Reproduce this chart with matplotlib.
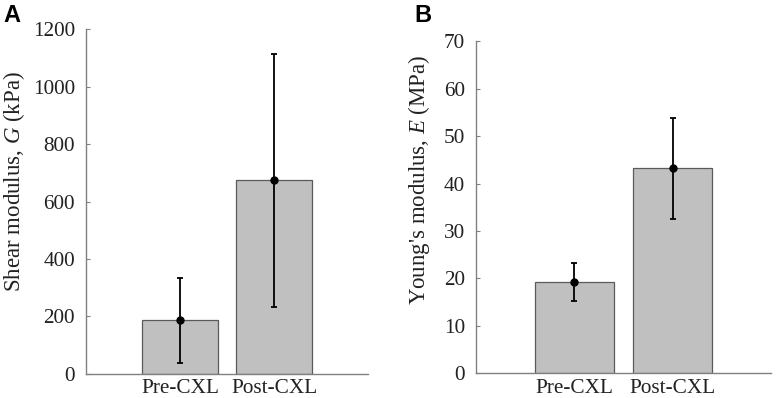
import matplotlib
matplotlib.use("Agg")
import matplotlib.pyplot as plt
import numpy as np

plt.rcParams['font.family'] = ['Liberation Serif', 'DejaVu Serif']
plt.rcParams['mathtext.fontset'] = 'custom'
plt.rcParams['mathtext.rm'] = 'Liberation Serif'
plt.rcParams['mathtext.it'] = 'Liberation Serif:italic'

categories = ["Pre-CXL", "Post-CXL"]
shear_mean = [187, 674]
shear_err = [148, 441]
young_mean = [19.3, 43.2]
young_err = [4.0, 10.6]

fig = plt.figure(figsize=(7.78, 3.98), dpi=100)
axA = fig.add_axes([0.1105, 0.061, 0.3625, 0.865])
axB = fig.add_axes([0.6118, 0.062, 0.3792, 0.834])

def style(ax, means, errs, ylim, yticks, ylabel, label_xy):
    x = np.arange(1, len(categories) + 1)
    ax.bar(x, means, width=0.8, color='#c0c0c0', edgecolor='#5a5a5a', linewidth=0.9, zorder=2)
    ax.errorbar(x, means, yerr=errs, fmt='o', color='black', ms=5, elinewidth=1.3,
                capsize=2.5, capthick=1.3, zorder=3)
    ax.set_xlim(0, 3)
    ax.set_ylim(*ylim)
    ax.set_yticks(yticks)
    ax.set_xticks(x)
    ax.set_xticklabels(categories)
    for s in ['top', 'right']:
        ax.spines[s].set_visible(False)
    for s in ['left', 'bottom']:
        ax.spines[s].set_color('#808080')
        ax.spines[s].set_linewidth(1.0)
    ax.tick_params(direction='in', length=3, color='#808080', labelsize=15.3,
                   labelcolor='#222222', pad=8)
    ax.tick_params(axis='x', pad=4)
    ax.set_ylabel(ylabel, fontsize=16.5, color='#222222')
    ax.yaxis.set_label_coords(*label_xy)

style(axA, shear_mean, shear_err, (0, 1200), np.arange(0, 1201, 200),
      "Shear modulus, $G$ (kPa)", (-0.21, 0.557))
style(axB, young_mean, young_err, (0, 70), np.arange(0, 71, 10),
      "Young's modulus, $E$ (MPa)", (-0.148, 0.582))

fig.text(0.004, 0.99, "A", fontsize=17, fontweight='bold', family='Liberation Sans',
         va='top', ha='left')
fig.text(0.532, 0.99, "B", fontsize=17, fontweight='bold', family='Liberation Sans',
         va='top', ha='left')

fig.savefig("out.png", dpi=100)
